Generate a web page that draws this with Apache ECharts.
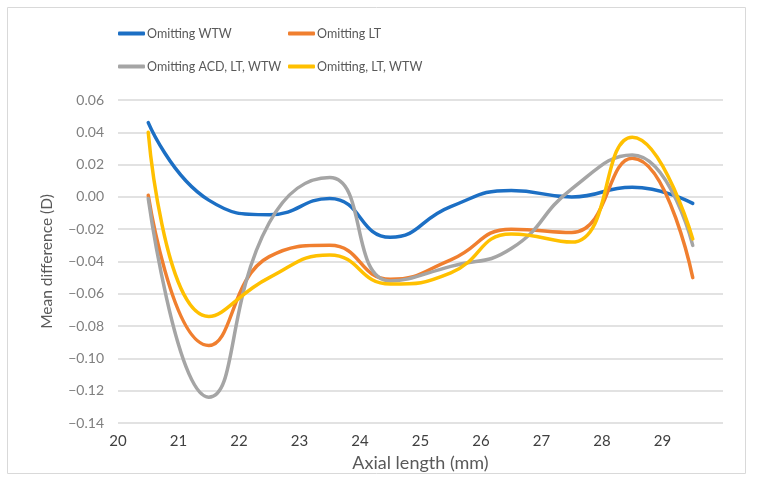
<!DOCTYPE html>
<html><head><meta charset="utf-8">
<script src="https://cdn.jsdelivr.net/npm/echarts@6/dist/echarts.min.js"></script>
<style>html,body{margin:0;padding:0;background:#fff}#c{width:757px;height:486px}</style>
</head><body><div id="c"></div>
<script>
const xValues = [20.5, 21.5, 22.5, 23.5, 24.5, 25.5, 26.5, 27.5, 28.5, 29.5];
const omitWTW = [0.046, -0.002, -0.011, -0.001, -0.025, -0.006, 0.004, 0.000, 0.006, -0.004];
const omitLT = [0.001, -0.092, -0.037, -0.030, -0.051, -0.039, -0.020, -0.022, 0.024, -0.050];
const omitACD = [-0.001, -0.124, -0.016, 0.012, -0.052, -0.043, -0.032, 0.005, 0.026, -0.030];
const omitLTWTW = [0.040, -0.074, -0.050, -0.036, -0.054, -0.047, -0.023, -0.028, 0.037, -0.026];
const seriesNames = ['Omitting WTW', 'Omitting LT', 'Omitting ACD, LT, WTW', 'Omitting, LT, WTW'];
const colors = ['#1c6fc4', '#f07f2f', '#a5a5a5', '#ffc000'];
const allData = [omitWTW, omitLT, omitACD, omitLTWTW];

const font = 'Lato, "Open Sans", sans-serif';
const chart = echarts.init(document.getElementById('c'));
const legendPos = [[118, 27], [288, 27], [118, 60], [288, 60]];
chart.setOption({
  animation: false,
  textStyle: {fontFamily: font},
  graphic: [{type: 'rect', shape: {x: 7.5, y: 7.5, width: 738, height: 466},
    style: {fill: 'none', stroke: '#d9d9d9', lineWidth: 1}}],
  legend: seriesNames.map((n, i) => ({
    data: [n], left: legendPos[i][0], top: legendPos[i][1], padding: 0,
    itemWidth: 27, itemHeight: 4, icon: 'roundRect', itemGap: 0,
    textStyle: {fontFamily: font, fontSize: 12.5, color: '#595959', padding: [0, 0, 0, -3]}
  })),
  grid: {left: 118, right: 34, top: 100, bottom: 63},
  xAxis: {
    type: 'value', min: 20, max: 30, interval: 1,
    name: 'Axial length (mm)', nameLocation: 'middle', nameGap: 28,
    nameTextStyle: {fontSize: 18, color: '#595959', fontFamily: font},
    axisLine: {show: false}, axisTick: {show: false}, splitLine: {show: false},
    axisLabel: {fontSize: 15, color: '#404040', margin: 11,
      formatter: v => v === 30 ? '' : String(v)}
  },
  yAxis: {
    type: 'value', min: -0.14, max: 0.06, interval: 0.02,
    name: 'Mean difference (D)', nameLocation: 'middle', nameGap: 63,
    nameTextStyle: {fontSize: 15.5, color: '#595959', fontFamily: font},
    axisLine: {show: false}, axisTick: {show: false},
    splitLine: {lineStyle: {color: '#d9d9d9', width: 1.5}},
    axisLabel: {fontSize: 14, color: '#808080', margin: 14,
      formatter: v => { const s = Math.abs(v).toFixed(2); return (v < -1e-9 ? '\u2212' : '') + s; }}
  },
  series: seriesNames.map((n, i) => ({
    name: n, type: 'line', smooth: 0.5, showSymbol: false, symbol: 'none',
    data: xValues.map((x, j) => [x, allData[i][j]]),
    lineStyle: {color: colors[i], width: 3.5, cap: 'round'},
    itemStyle: {color: colors[i]}
  }))
});
</script></body></html>
